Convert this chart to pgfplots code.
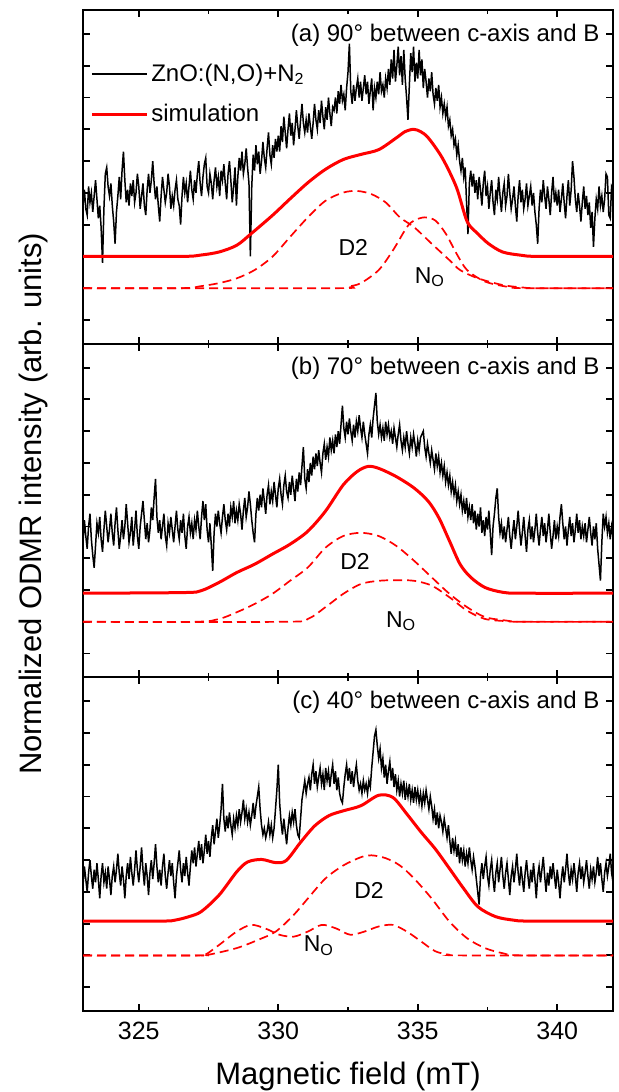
\documentclass[border=0pt]{standalone}
\usepackage{fontspec}
\setmainfont{Liberation Sans}
\usepackage{pgfplots}
\usepackage{pgfplotstable}
\pgfplotsset{compat=1.18}

% measured ODMR traces, panel (a) 90 deg
\pgfplotstableread{
x y
323.00 3.6
323.05 4.1
323.10 3.5
323.15 3.3
323.20 4.2
323.25 3.7
323.30 4.0
323.35 3.4
323.40 3.9
323.45 4.4
323.50 3.8
323.55 3.2
323.60 3.6
323.65 2.9
323.70 1.8
323.75 3.5
323.80 4.6
323.85 4.8
323.90 4.2
323.95 3.9
324.00 4.3
324.05 3.6
324.10 3.1
324.15 2.4
324.20 3.4
324.25 3.9
324.30 4.5
324.35 3.8
324.40 4.7
324.45 5.3
324.50 4.4
324.55 3.7
324.60 4.1
324.65 3.6
324.70 4.3
324.75 3.9
324.80 4.4
324.85 3.7
324.90 4.0
324.95 4.6
325.00 4.2
325.05 3.5
325.10 3.9
325.15 4.3
325.20 3.6
325.25 3.3
325.30 4.1
325.35 4.6
325.40 4.0
325.45 4.4
325.50 5.0
325.55 4.3
325.60 3.8
325.65 4.2
325.70 3.6
325.75 3.1
325.80 3.9
325.85 4.5
325.90 4.1
325.95 3.7
326.00 4.0
326.05 4.6
326.10 4.2
326.15 3.5
326.20 3.9
326.25 3.6
326.30 4.1
326.35 4.4
326.40 3.8
326.45 3.6
326.50 3.0
326.55 3.9
326.60 4.5
326.65 4.0
326.70 4.3
326.75 3.7
326.80 4.2
326.85 4.7
326.90 4.1
326.95 3.8
327.00 4.4
327.05 4.0
327.10 4.6
327.15 5.0
327.20 4.3
327.25 3.9
327.30 4.5
327.35 4.9
327.40 5.1
327.45 4.2
327.50 4.0
327.55 4.6
327.60 4.3
327.65 3.8
327.70 4.4
327.75 4.8
327.80 4.2
327.85 4.5
327.90 3.9
327.95 4.7
328.00 4.4
328.05 4.9
328.10 4.3
328.15 3.8
328.20 4.6
328.25 5.0
328.30 4.4
328.35 3.7
328.40 4.2
328.45 4.8
328.50 3.6
328.55 4.5
328.60 5.1
328.65 4.7
328.70 5.3
328.75 4.6
328.80 4.9
328.85 5.4
328.90 4.8
328.95 4.3
329.00 2.0
329.05 4.2
329.10 5.2
329.15 4.7
329.20 5.5
329.25 4.9
329.30 5.3
329.35 4.6
329.40 5.0
329.45 5.6
329.50 5.1
329.55 4.8
329.60 5.4
329.65 5.9
329.70 5.2
329.75 4.9
329.80 5.5
329.85 5.1
329.90 5.7
329.95 5.3
330.00 5.8
330.05 5.3
330.10 6.1
330.15 5.6
330.20 6.4
330.25 5.9
330.30 5.4
330.35 6.0
330.40 6.5
330.45 5.8
330.50 6.2
330.55 5.5
330.60 6.0
330.65 6.6
330.70 6.1
330.75 5.7
330.80 6.3
330.85 6.8
330.90 6.2
330.95 5.9
331.00 6.3
331.05 5.9
331.10 6.5
331.15 6.1
331.20 5.7
331.25 6.2
331.30 6.8
331.35 6.3
331.40 6.0
331.45 6.6
331.50 6.2
331.55 6.9
331.60 6.4
331.65 6.0
331.70 6.7
331.75 6.3
331.80 7.0
331.85 6.5
331.90 6.1
331.95 6.7
332.00 6.6
332.05 7.0
332.10 6.5
332.15 7.2
332.20 6.8
332.25 7.4
332.30 6.9
332.35 7.1
332.40 6.6
332.45 7.3
332.50 7.8
332.55 8.7
332.60 7.2
332.65 6.8
332.70 7.4
332.75 6.9
332.80 7.3
332.85 7.6
332.90 7.0
332.95 7.5
333.00 6.9
333.05 7.3
333.10 7.7
333.15 7.1
333.20 7.5
333.25 6.8
333.30 7.2
333.35 7.6
333.40 6.6
333.45 7.3
333.50 7.0
333.55 7.5
333.60 7.1
333.65 7.8
333.70 7.2
333.75 7.4
333.80 7.0
333.85 7.6
333.90 7.3
333.95 7.9
334.00 7.4
334.05 8.2
334.10 7.6
334.15 8.5
334.20 7.5
334.25 8.0
334.30 8.6
334.35 7.7
334.40 8.3
334.45 7.4
334.50 8.5
334.55 7.6
334.60 7.0
334.65 6.3
334.70 7.4
334.75 8.4
334.80 7.8
334.85 8.6
334.90 7.5
334.95 8.1
335.00 7.6
335.05 8.5
335.10 7.7
335.15 8.2
335.20 7.3
335.25 7.9
335.30 7.5
335.35 7.0
335.40 7.6
335.45 7.2
335.50 7.8
335.55 7.1
335.60 6.8
335.65 7.3
335.70 6.9
335.75 7.4
335.80 6.7
335.85 7.0
335.90 6.5
335.95 6.8
336.00 6.4
336.05 6.7
336.10 6.1
336.15 6.3
336.20 5.8
336.25 6.0
336.30 5.5
336.35 5.7
336.40 5.2
336.45 5.5
336.50 5.0
336.55 4.7
336.60 5.1
336.65 4.5
336.70 4.8
336.75 3.7
336.80 2.7
336.85 4.3
336.90 4.7
336.95 4.2
337.00 4.6
337.05 4.0
337.10 4.4
337.15 3.8
337.20 4.5
337.25 4.1
337.30 3.6
337.35 4.3
337.40 4.7
337.45 3.9
337.50 4.2
337.55 3.5
337.60 4.0
337.65 4.4
337.70 3.7
337.75 3.3
337.80 4.1
337.85 3.8
337.90 4.5
337.95 3.9
338.00 3.4
338.05 4.0
338.10 4.3
338.15 3.6
338.20 3.9
338.25 4.6
338.30 4.0
338.35 3.5
338.40 3.8
338.45 4.2
338.50 3.6
338.55 3.1
338.60 3.9
338.65 4.4
338.70 3.7
338.75 4.1
338.80 3.5
338.85 3.8
338.90 4.3
338.95 3.6
339.00 3.9
339.05 4.2
339.10 3.6
339.15 4.0
339.20 3.4
339.25 3.0
339.30 2.4
339.35 3.5
339.40 4.1
339.45 3.7
339.50 4.4
339.55 3.9
339.60 3.5
339.65 4.2
339.70 3.8
339.75 3.3
339.80 4.0
339.85 4.5
339.90 3.7
339.95 4.0
340.00 3.6
340.05 4.1
340.10 3.4
340.15 3.8
340.20 4.3
340.25 3.7
340.30 3.2
340.35 3.9
340.40 4.4
340.45 3.6
340.50 4.1
340.55 5.0
340.60 4.5
340.65 3.8
340.70 3.4
340.75 4.0
340.80 3.6
340.85 3.1
340.90 3.7
340.95 4.2
341.00 3.5
341.05 3.9
341.10 3.3
341.15 3.7
341.20 2.9
341.25 3.4
341.30 2.3
341.35 3.2
341.40 3.8
341.45 3.5
341.50 4.2
341.55 3.6
341.60 3.9
341.65 3.4
341.70 3.8
341.75 4.6
341.80 4.5
341.85 3.3
341.90 3.2
341.95 4.2
342.00 4.1
}\dataA

% panel (b) 70 deg
\pgfplotstableread{
x y
323.00 3.5
323.05 4.2
323.10 3.7
323.15 3.3
323.20 4.0
323.25 4.4
323.30 3.6
323.35 3.1
323.40 2.7
323.45 3.4
323.50 4.1
323.55 3.8
323.60 4.3
323.65 3.6
323.70 3.2
323.75 3.9
323.80 4.5
323.85 4.0
323.90 3.5
323.95 3.9
324.00 4.4
324.05 3.8
324.10 3.4
324.15 4.1
324.20 4.6
324.25 3.9
324.30 3.3
324.35 3.7
324.40 4.2
324.45 3.6
324.50 4.0
324.55 4.7
324.60 4.1
324.65 3.5
324.70 3.8
324.75 4.3
324.80 3.4
324.85 3.9
324.90 4.5
324.95 3.7
325.00 3.3
325.05 4.0
325.10 4.4
325.15 4.8
325.20 4.2
325.25 3.6
325.30 4.1
325.35 3.5
325.40 3.9
325.45 4.6
325.50 4.2
325.55 4.9
325.60 5.5
325.65 4.3
325.70 3.8
325.75 4.2
325.80 3.6
325.85 4.0
325.90 4.4
325.95 3.7
326.00 3.4
326.05 4.1
326.10 3.8
326.15 4.3
326.20 3.9
326.25 3.5
326.30 4.0
326.35 4.5
326.40 3.9
326.45 3.6
326.50 4.2
326.55 3.8
326.60 4.4
326.65 3.7
326.70 3.3
326.75 4.0
326.80 4.3
326.85 3.8
326.90 4.1
326.95 3.6
327.00 4.2
327.05 3.9
327.10 4.5
327.15 4.0
327.20 3.6
327.25 4.3
327.30 4.8
327.35 4.2
327.40 4.7
327.45 3.9
327.50 3.5
327.55 4.1
327.60 3.4
327.65 2.6
327.70 3.8
327.75 4.4
327.80 4.0
327.85 4.5
327.90 4.1
327.95 3.8
328.00 4.3
328.05 4.7
328.10 4.2
328.15 3.9
328.20 4.4
328.25 4.0
328.30 4.6
328.35 4.3
328.40 4.8
328.45 4.1
328.50 4.5
328.55 4.2
328.60 4.7
328.65 4.4
328.70 3.9
328.75 4.5
328.80 4.9
328.85 4.3
328.90 4.6
328.95 5.1
329.00 4.7
329.05 4.2
329.10 3.8
329.15 3.5
329.20 4.4
329.25 4.9
329.30 4.5
329.35 5.0
329.40 4.6
329.45 5.2
329.50 4.8
329.55 4.4
329.60 5.0
329.65 5.3
329.70 4.7
329.75 5.1
329.80 4.8
329.85 5.4
329.90 5.0
329.95 4.6
330.00 5.2
330.05 5.5
330.10 5.0
330.15 4.7
330.20 5.3
330.25 5.6
330.30 5.1
330.35 4.9
330.40 5.4
330.45 5.0
330.50 5.6
330.55 5.2
330.60 4.8
330.65 5.5
330.70 5.1
330.75 5.7
330.80 5.3
330.85 5.9
330.90 6.5
330.95 5.5
331.00 5.2
331.05 5.8
331.10 5.4
331.15 6.0
331.20 5.6
331.25 6.2
331.30 5.8
331.35 6.3
331.40 5.9
331.45 6.4
331.50 6.0
331.55 5.7
331.60 6.3
331.65 6.6
331.70 6.1
331.75 6.5
331.80 6.2
331.85 6.8
331.90 6.4
331.95 6.7
332.00 6.3
332.05 6.9
332.10 6.5
332.15 7.0
332.20 6.6
332.25 7.2
332.30 7.8
332.35 7.1
332.40 6.8
332.45 7.3
332.50 6.9
332.55 7.4
332.60 7.0
332.65 6.7
332.70 7.2
332.75 6.8
332.80 7.3
332.85 7.0
332.90 7.5
332.95 7.1
333.00 6.8
333.05 7.3
333.10 6.9
333.15 6.6
333.20 6.3
333.25 6.9
333.30 7.2
333.35 6.8
333.40 7.4
333.45 7.8
333.50 8.2
333.55 7.3
333.60 6.9
333.65 7.2
333.70 6.8
333.75 7.1
333.80 6.7
333.85 7.3
333.90 6.9
333.95 7.2
334.00 6.8
334.05 7.0
334.10 6.6
334.15 7.1
334.20 6.8
334.25 6.5
334.30 6.9
334.35 7.2
334.40 6.7
334.45 6.4
334.50 6.8
334.55 6.5
334.60 7.0
334.65 6.6
334.70 6.3
334.75 6.8
334.80 6.5
334.85 6.9
334.90 6.6
334.95 6.2
335.00 6.7
335.05 6.4
335.10 6.8
335.15 6.9
335.20 7.0
335.25 6.5
335.30 6.2
335.35 6.6
335.40 6.3
335.45 6.0
335.50 6.4
335.55 6.1
335.60 5.8
335.65 6.3
335.70 5.9
335.75 6.2
335.80 5.7
335.85 6.0
335.90 5.6
335.95 5.9
336.00 5.4
336.05 5.7
336.10 5.3
336.15 5.6
336.20 5.1
336.25 5.4
336.30 5.0
336.35 5.3
336.40 4.8
336.45 5.1
336.50 4.7
336.55 5.0
336.60 4.5
336.65 4.8
336.70 4.4
336.75 4.9
336.80 4.3
336.85 4.6
336.90 4.2
336.95 4.7
337.00 4.1
337.05 4.5
337.10 3.9
337.15 4.4
337.20 4.0
337.25 4.6
337.30 3.8
337.35 4.2
337.40 3.7
337.45 4.3
337.50 3.9
337.55 4.5
337.60 3.8
337.65 3.1
337.70 4.0
337.75 4.4
337.80 4.9
337.85 5.2
337.90 4.3
337.95 3.8
338.00 4.1
338.05 3.6
338.10 4.0
338.15 3.5
338.20 3.9
338.25 4.3
338.30 3.7
338.35 3.3
338.40 3.8
338.45 4.2
338.50 3.6
338.55 4.0
338.60 4.5
338.65 3.9
338.70 3.4
338.75 3.8
338.80 4.3
338.85 3.7
338.90 3.2
338.95 3.9
339.00 4.2
339.05 3.6
339.10 4.0
339.15 3.5
339.20 3.9
339.25 4.4
339.30 3.8
339.35 3.4
339.40 3.9
339.45 4.3
339.50 3.7
339.55 4.1
339.60 3.5
339.65 3.9
339.70 4.4
339.75 3.8
339.80 3.3
339.85 3.7
339.90 4.2
339.95 3.6
340.00 4.0
340.05 3.7
340.10 4.3
340.15 4.7
340.20 4.1
340.25 3.6
340.30 4.0
340.35 3.4
340.40 3.9
340.45 4.3
340.50 3.7
340.55 4.1
340.60 3.5
340.65 3.9
340.70 4.4
340.75 3.8
340.80 4.2
340.85 3.6
340.90 4.0
340.95 3.7
341.00 4.1
341.05 3.5
341.10 3.9
341.15 4.3
341.20 3.8
341.25 3.4
341.30 4.0
341.35 3.6
341.40 4.1
341.45 3.3
341.50 2.8
341.55 2.3
341.60 3.5
341.65 4.4
341.70 4.0
341.75 4.3
341.80 3.8
341.85 4.1
341.90 3.6
341.95 4.0
342.00 3.7
}\dataB

% panel (c) 40 deg
\pgfplotstableread{
x y
323.00 3.2
323.05 3.8
323.10 3.4
323.15 3.0
323.20 3.6
323.25 4.0
323.30 3.5
323.35 3.1
323.40 3.7
323.45 3.3
323.50 3.9
323.55 3.4
323.60 2.8
323.65 3.5
323.70 3.9
323.75 3.3
323.80 3.6
323.85 3.1
323.90 3.8
323.95 3.4
324.00 2.9
324.05 3.5
324.10 3.8
324.15 3.3
324.20 3.7
324.25 4.2
324.30 3.6
324.35 3.2
324.40 3.8
324.45 3.4
324.50 2.8
324.55 3.5
324.60 3.9
324.65 3.4
324.70 4.1
324.75 3.6
324.80 3.2
324.85 3.7
324.90 4.3
324.95 3.7
325.00 3.3
325.05 3.8
325.10 4.4
325.15 3.7
325.20 3.2
325.25 3.9
325.30 3.5
325.35 2.9
325.40 3.6
325.45 4.0
325.50 3.4
325.55 3.9
325.60 4.5
325.65 3.8
325.70 3.3
325.75 3.7
325.80 3.2
325.85 3.8
325.90 4.2
325.95 3.5
326.00 3.1
326.05 3.6
326.10 4.0
326.15 3.5
326.20 3.9
326.25 3.3
326.30 2.8
326.35 3.5
326.40 3.9
326.45 4.3
326.50 3.7
326.55 3.3
326.60 3.9
326.65 3.5
326.70 4.1
326.75 3.6
326.80 3.2
326.85 3.8
326.90 4.3
326.95 3.9
327.00 4.4
327.05 3.8
327.10 4.2
327.15 4.6
327.20 4.0
327.25 4.5
327.30 3.9
327.35 4.3
327.40 4.8
327.45 4.2
327.50 4.6
327.55 4.1
327.60 4.7
327.65 5.1
327.70 4.5
327.75 4.9
327.80 5.3
327.85 4.7
327.90 5.1
327.95 5.6
328.00 6.4
328.05 5.3
328.10 4.9
328.15 5.4
328.20 5.0
328.25 5.5
328.30 5.1
328.35 4.8
328.40 5.3
328.45 5.0
328.50 5.4
328.55 5.1
328.60 5.6
328.65 5.2
328.70 5.5
328.75 5.9
328.80 5.3
328.85 5.6
328.90 5.2
328.95 5.5
329.00 5.1
329.05 5.4
329.10 5.8
329.15 5.3
329.20 5.7
329.25 6.0
329.30 6.3
329.35 5.6
329.40 5.1
329.45 4.8
329.50 5.0
329.55 4.7
329.60 4.9
329.65 5.2
329.70 4.8
329.75 5.1
329.80 4.7
329.85 5.0
329.90 5.6
329.95 6.2
330.00 7.0
330.05 5.8
330.10 5.2
330.15 4.8
330.20 5.3
330.25 4.9
330.30 4.5
330.35 5.0
330.40 5.4
330.45 5.1
330.50 5.5
330.55 5.2
330.60 5.6
330.65 5.1
330.70 4.8
330.75 4.7
330.80 5.3
330.85 5.9
330.90 6.2
330.95 6.5
331.00 6.1
331.05 6.4
331.10 6.6
331.15 6.2
331.20 6.7
331.25 7.0
331.30 6.4
331.35 6.8
331.40 6.3
331.45 6.6
331.50 6.9
331.55 6.4
331.60 6.7
331.65 6.2
331.70 6.9
331.75 6.5
331.80 6.8
331.85 6.3
331.90 6.7
331.95 7.0
332.00 6.4
332.05 6.8
332.10 6.2
332.15 6.6
332.20 6.1
332.25 5.9
332.30 5.8
332.35 6.3
332.40 6.7
332.45 7.0
332.50 6.5
332.55 6.9
332.60 6.4
332.65 6.8
332.70 6.3
332.75 6.7
332.80 7.0
332.85 6.5
332.90 6.2
332.95 6.4
333.00 6.1
333.05 6.5
333.10 6.2
333.15 6.4
333.20 6.1
333.25 6.5
333.30 6.3
333.35 6.9
333.40 7.4
333.45 7.9
333.50 8.1
333.55 7.6
333.60 7.2
333.65 7.5
333.70 6.9
333.75 7.2
333.80 6.6
333.85 7.0
333.90 6.4
333.95 6.8
334.00 7.1
334.05 6.5
334.10 6.9
334.15 6.3
334.20 6.7
334.25 6.2
334.30 6.5
334.35 6.0
334.40 6.4
334.45 6.1
334.50 6.5
334.55 5.9
334.60 6.3
334.65 6.0
334.70 6.4
334.75 5.9
334.80 6.2
334.85 5.8
334.90 6.3
334.95 5.9
335.00 6.2
335.05 5.8
335.10 6.1
335.15 5.7
335.20 6.1
335.25 5.8
335.30 6.2
335.35 5.9
335.40 5.6
335.45 6.0
335.50 5.7
335.55 5.3
335.60 5.6
335.65 5.1
335.70 5.5
335.75 5.0
335.80 5.4
335.85 5.2
335.90 4.9
335.95 5.3
336.00 5.0
336.05 4.7
336.10 5.1
336.15 4.6
336.20 4.2
336.25 4.7
336.30 4.3
336.35 4.6
336.40 4.1
336.45 4.5
336.50 3.9
336.55 4.4
336.60 4.0
336.65 4.3
336.70 3.8
336.75 4.2
336.80 3.9
336.85 4.4
336.90 4.0
336.95 3.7
337.00 4.1
337.05 3.8
337.10 3.4
337.15 3.0
337.20 2.6
337.25 3.5
337.30 3.9
337.35 3.4
337.40 3.8
337.45 4.1
337.50 3.5
337.55 3.2
337.60 3.7
337.65 4.0
337.70 3.4
337.75 3.0
337.80 3.6
337.85 3.9
337.90 3.3
337.95 3.7
338.00 4.1
338.05 3.5
338.10 3.1
338.15 3.6
338.20 3.9
338.25 3.4
338.30 2.9
338.35 3.5
338.40 3.8
338.45 3.3
338.50 3.7
338.55 4.2
338.60 3.6
338.65 3.2
338.70 3.8
338.75 3.4
338.80 3.0
338.85 3.6
338.90 4.0
338.95 3.5
339.00 3.1
339.05 3.7
339.10 3.3
339.15 3.9
339.20 3.4
339.25 2.8
339.30 3.5
339.35 3.8
339.40 3.3
339.45 3.7
339.50 4.1
339.55 3.5
339.60 3.0
339.65 3.6
339.70 3.2
339.75 3.8
339.80 3.4
339.85 3.9
339.90 3.5
339.95 3.1
340.00 3.7
340.05 3.3
340.10 2.8
340.15 3.4
340.20 3.8
340.25 3.3
340.30 3.7
340.35 4.2
340.40 3.6
340.45 3.2
340.50 3.7
340.55 3.4
340.60 3.9
340.65 3.5
340.70 3.0
340.75 3.6
340.80 3.9
340.85 3.4
340.90 3.8
340.95 3.3
341.00 3.6
341.05 4.0
341.10 3.5
341.15 3.1
341.20 3.7
341.25 3.4
341.30 3.8
341.35 3.3
341.40 3.6
341.45 4.1
341.50 3.5
341.55 3.9
341.60 3.4
341.65 3.0
341.70 3.6
341.75 3.9
341.80 3.5
341.85 3.8
341.90 4.2
341.95 3.6
342.00 3.3
}\dataC

\newcommand\annfont{\fontsize{12}{14}\selectfont}

\pgfplotsset{
  panel/.style={
    width=265pt, height=166.8pt, scale only axis,
    xmin=323, xmax=342, ymin=-0.75, ymax=9.75,
    xtick={325,330,335,340}, minor xtick={327.5,332.5,337.5},
    ytick={0,1,2,3,4,5,6,7,8,9}, yticklabels={},
    tick align=inside, xtick pos=both, ytick pos=both,
    major tick length=3.5pt, minor tick length=2pt,
    axis line style={line width=1.1pt},
    tick style={line width=0.9pt, black},
    /pgf/number format/assume math mode=true,
    xticklabel style={font=\fontsize{12.5}{14}\selectfont, yshift=-2pt},
    label style={font=\fontsize{15.5}{18}\selectfont},
  },
  noisy/.style={black, line width=0.75pt},
  sim/.style={red, line width=1.5pt, smooth, tension=0.5},
  comp/.style={red, line width=0.85pt, dash pattern=on 4.5pt off 2.5pt, smooth, tension=0.5, forget plot},
}

\begin{document}
\begin{tikzpicture}
\path[use as bounding box] (-41.5pt,-40.5pt) rectangle (267.5pt,505.5pt);

% (c) 40 deg
\begin{axis}[panel, at={(0pt,0pt)},
  xlabel={Magnetic field (mT)},
  xlabel style={at={(axis description cs:0.5,-0.219)}, anchor=base}]
\addplot[noisy] table {\dataC};
\addplot[sim] coordinates {(323,2.08)(325.8,2.08)(326.3,2.11)(326.8,2.22)(327.24,2.38)(327.88,2.90)(328.51,3.63)(328.9,3.94)(329.4,4.02)(329.91,3.92)(330.29,3.99)(330.8,4.56)(331.31,5.08)(331.82,5.40)(332.33,5.55)(332.96,5.71)(333.6,6.04)(334.11,5.97)(334.61,5.45)(335.12,4.88)(335.63,4.35)(336.14,3.73)(336.65,3.10)(337.16,2.53)(337.79,2.22)(338.43,2.11)(339,2.08)(342,2.08)};
\addplot[comp] coordinates {(323,1)(327.2,1)(327.5,1.02)(328.51,1.23)(329.28,1.49)(329.91,1.75)(330.55,2.27)(331.06,2.79)(331.69,3.42)(332.33,3.83)(332.96,4.09)(333.34,4.15)(333.85,4.06)(334.36,3.83)(334.87,3.42)(335.5,2.79)(336.14,2.06)(336.77,1.54)(337.41,1.23)(338.04,1.07)(338.7,1)(342,1)};
\addplot[comp] coordinates {(323,1)(327.1,1)(327.38,1.02)(327.88,1.33)(328.51,1.75)(329.02,1.96)(329.53,1.85)(330.04,1.65)(330.55,1.59)(331.06,1.75)(331.56,1.96)(332.07,1.85)(332.58,1.65)(333.09,1.75)(333.6,1.91)(334.11,1.96)(334.61,1.75)(335.12,1.44)(335.63,1.13)(336.14,1.02)(336.6,1)(342,1)};
\node[font=\annfont, anchor=base east, inner sep=0pt] at (rel axis cs:0.975,0.907) {(c) 40° between c-axis and B};
\node[font=\fontsize{11.5}{14}\selectfont, anchor=base west, inner sep=0pt] at (axis cs:332.71,2.79) {D2};
\node[font=\fontsize{11.5}{14}\selectfont, anchor=base west, inner sep=0pt] at (axis cs:330.9,1.125) {N\textsubscript{O}};
\end{axis}

% (b) 70 deg
\begin{axis}[panel, at={(0pt,166.8pt)}, xticklabels={},
  ylabel={Normalized ODMR intensity (arb. units)},
  ylabel style={at={(axis description cs:-0.0774,0.52)}, anchor=base}]
\addplot[noisy] table {\dataB};
\addplot[sim] coordinates {(323,1.9)(326.6,1.92)(327.24,1.98)(327.88,2.24)(328.51,2.55)(329.15,2.81)(329.79,3.13)(330.42,3.44)(331.06,3.85)(331.69,4.48)(332.33,5.31)(332.83,5.73)(333.22,5.89)(333.6,5.83)(334.23,5.57)(334.87,5.21)(335.38,4.79)(335.76,4.27)(336.14,3.54)(336.52,2.81)(336.9,2.40)(337.41,2.08)(338.04,1.93)(338.7,1.9)(342,1.9)};
\addplot[comp] coordinates {(323,1)(327,1)(327.88,1.09)(328.51,1.30)(329.15,1.56)(329.79,1.88)(330.42,2.29)(331.06,2.71)(331.69,3.33)(332.33,3.70)(332.96,3.80)(333.6,3.70)(334.23,3.39)(334.87,2.92)(335.5,2.40)(336.14,1.88)(336.77,1.46)(337.41,1.15)(338.17,1.04)(338.8,1)(342,1)};
\addplot[comp] coordinates {(323,1)(330.2,1)(331.06,1.09)(331.69,1.46)(332.33,1.88)(332.96,2.19)(333.6,2.29)(334.23,2.31)(334.87,2.29)(335.5,2.14)(336.14,1.77)(336.77,1.35)(337.41,1.09)(338.17,1.02)(338.8,1)(342,1)};
\node[font=\annfont, anchor=base east, inner sep=0pt] at (rel axis cs:0.975,0.907) {(b) 70° between c-axis and B};
\node[font=\fontsize{11.5}{14}\selectfont, anchor=base west, inner sep=0pt] at (axis cs:332.21,2.66) {D2};
\node[font=\fontsize{11.5}{14}\selectfont, anchor=base west, inner sep=0pt] at (axis cs:333.85,0.83) {N\textsubscript{O}};
\end{axis}

% (a) 90 deg
\begin{axis}[panel, at={(0pt,333.6pt)}, xticklabels={},
  legend style={at={(rel axis cs:0.013,0.85)}, anchor=north west, draw=none, fill=none,
    inner sep=0pt, row sep=7pt, font=\annfont, nodes={inner sep=1.5pt}},
  legend cell align=left,
  legend image code/.code={\draw[#1] (0pt,0pt) -- (27.5pt,0pt);}]
\addplot[noisy] table {\dataA};
\addlegendentry{ZnO:(N,O)+N\textsubscript{2}}
\addplot[sim] coordinates {(323,2.0)(326.5,2.0)(327.2,2.04)(327.88,2.14)(328.51,2.35)(329.02,2.71)(329.79,3.29)(330.42,3.81)(331.06,4.32)(331.69,4.74)(332.33,5.05)(332.96,5.21)(333.6,5.36)(334.23,5.73)(334.55,5.93)(334.85,6.0)(335.1,5.93)(335.38,5.73)(335.88,5.10)(336.39,4.17)(336.77,3.1)(337.16,2.71)(337.54,2.40)(338.04,2.14)(338.68,2.04)(339.3,2.0)(342,2.0)};
\addlegendentry{simulation}
\addplot[comp] coordinates {(323,1)(326.5,1)(327.2,1.06)(327.88,1.16)(328.51,1.31)(329.15,1.57)(329.79,1.99)(330.42,2.61)(331.06,3.23)(331.69,3.75)(332.33,4.01)(332.83,4.06)(333.34,3.96)(333.85,3.70)(334.36,3.23)(334.87,2.92)(335.5,2.40)(336.14,1.88)(336.52,1.57)(337.16,1.31)(338.04,1.10)(338.68,1.03)(339.3,1)(342,1)};
\addplot[comp] coordinates {(323,1)(332.0,1)(332.5,1.05)(332.96,1.16)(333.6,1.57)(334.11,2.19)(334.61,2.92)(334.87,3.13)(335.25,3.23)(335.63,3.13)(336.01,2.71)(336.39,2.09)(336.77,1.57)(337.41,1.21)(338.17,1.05)(338.8,1)(342,1)};
\node[font=\annfont, anchor=base east, inner sep=0pt] at (rel axis cs:0.975,0.907) {(a) 90° between c-axis and B};
\node[font=\fontsize{11.5}{14}\selectfont, anchor=base west, inner sep=0pt] at (axis cs:332.15,2.04) {D2};
\node[font=\fontsize{11.5}{14}\selectfont, anchor=base west, inner sep=0pt] at (axis cs:334.88,1.16) {N\textsubscript{O}};
\end{axis}
\end{tikzpicture}
\end{document}
